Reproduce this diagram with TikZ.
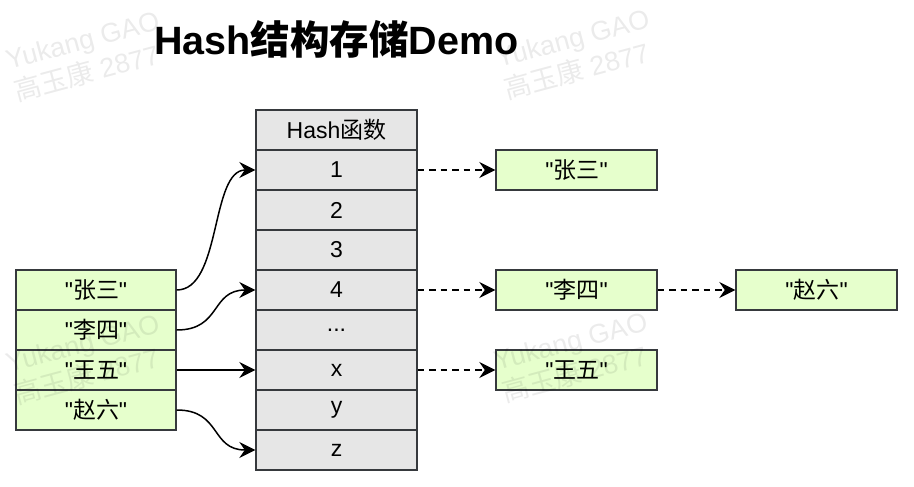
\documentclass[tikz,border=0pt]{standalone}
\usepackage{fontspec}
\setmainfont{Liberation Sans}
\newfontfamily\plainfont{Liberation Sans}
\newfontfamily\cjk{Noto Sans CJK SC}
\usetikzlibrary{arrows.meta}
\definecolor{edge}{HTML}{36393D}
\definecolor{cellgray}{HTML}{E6E6E6}
\definecolor{cellgreen}{HTML}{E6FFCC}
\newcommand\zh[1]{{\cjk #1}}
\newcommand\qt[1]{{\plainfont"}\zh{#1}{\plainfont"}}
\begin{document}
\begin{tikzpicture}[x=1pt,y=-1pt,
  cell/.style={draw=edge, line width=1.4pt, fill=cellgray, minimum width=161pt, minimum height=40pt, inner sep=0pt, font=\fontsize{23}{27}\selectfont},
  gcell/.style={cell, fill=cellgreen},
  link/.style={line width=1.5pt, -{Stealth[length=16pt,width=16pt,inset=5.5pt]}},
  dlink/.style={link, dash pattern=on 6.5pt off 5pt},
  wm/.style={rotate=15, text opacity=0.08, align=left, font=\fontsize{27}{33}\selectfont, inner sep=0pt}
]
\useasboundingbox (0,0) rectangle (914,487);
\fill[white] (0,0) rectangle (914,487);

% title
\node[anchor=base, font=\fontsize{39.5}{45}\selectfont\bfseries] (title) at (336.5,55) {Hash\zh{结构存储}Demo};

% hash column
\node[cell] (hh) at (336.5,130) {Hash\zh{函数}};
\node[cell] (h1) at (336.5,170) {1};
\node[cell] (h2) at (336.5,210) {2};
\node[cell] (h3) at (336.5,250) {3};
\node[cell] (h4) at (336.5,290) {4};
\node[cell] (hd) at (336.5,330) {...};
\node[cell] (hx) at (336.5,370) {x};
\node[cell] (hy) at (336.5,410) {y};
\node[cell] (hz) at (336.5,450) {z};

% left keys
\node[gcell, minimum width=160pt] (l1) at (96,290) {\qt{张三}};
\node[gcell, minimum width=160pt] (l2) at (96,330) {\qt{李四}};
\node[gcell, minimum width=160pt] (l3) at (96,370) {\qt{王五}};
\node[gcell, minimum width=160pt] (l4) at (96,410) {\qt{赵六}};

% right values
\node[gcell] (r1) at (576.5,170) {\qt{张三}};
\node[gcell] (r4) at (576.5,290) {\qt{李四}};
\node[gcell] (r6) at (816.5,290) {\qt{赵六}};
\node[gcell] (rx) at (576.5,370) {\qt{王五}};

% connectors
\draw[link] (l1.east) .. controls +(45,0) and +(-45,0) .. (h1.west);
\draw[link] (l2.east) .. controls +(45,0) and +(-45,0) .. (h4.west);
\draw[link] (l3.east) -- (hx.west);
\draw[link] (l4.east) .. controls +(45,0) and +(-45,0) .. (hz.west);

\draw[dlink] (h1.east) -- (r1.west);
\draw[dlink] (h4.east) -- (r4.west);
\draw[dlink] (r4.east) -- (r6.west);
\draw[dlink] (hx.east) -- (rx.west);

% watermark
\node[wm] (wm1) at (87,57) {Yukang GAO\\\zh{高玉康} 2877};
\node[wm] (wm2) at (577,55) {Yukang GAO\\\zh{高玉康} 2877};
\node[wm] (wm3) at (87,360) {Yukang GAO\\\zh{高玉康} 2877};
\node[wm] (wm4) at (575,358) {Yukang GAO\\\zh{高玉康} 2877};
\end{tikzpicture}
\end{document}
